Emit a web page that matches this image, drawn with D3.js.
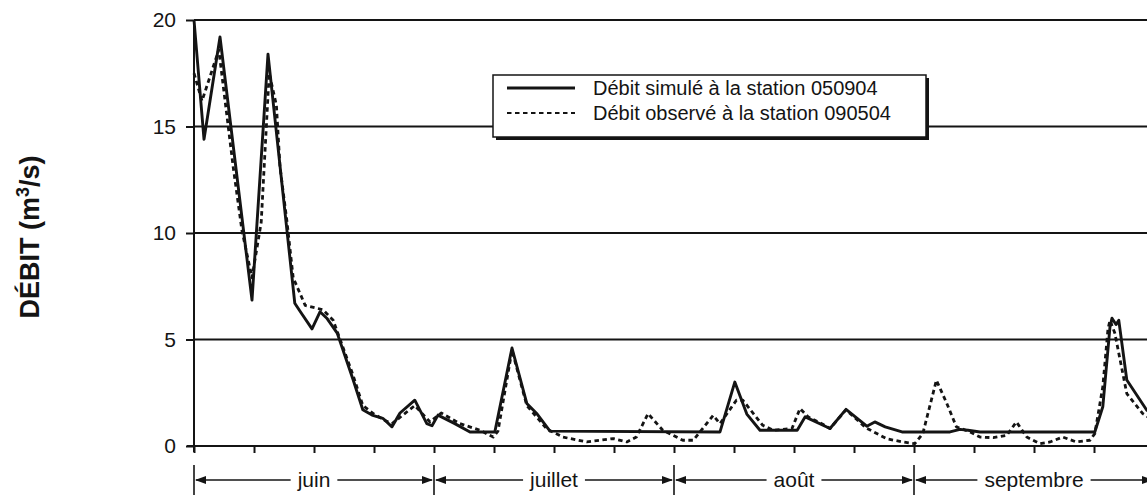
<!DOCTYPE html>
<html>
<head>
<meta charset="utf-8">
<script src="https://cdn.jsdelivr.net/npm/d3@7"></script>
<style>
  html, body { margin: 0; padding: 0; background: #fff; }
  svg { display: block; font-family: "Liberation Sans", Arial, sans-serif; }
</style>
</head>
<body>
<svg id="chart" width="1147" height="495"></svg>
<script>
// ---- data (x in days from 1 June; each month spans 30 units) ----
const simDays = [0, 1.25, 3.25, 7.25, 9.25, 12.6, 13.3, 14.75, 15.75, 16.6, 17.9, 19.9, 21.1, 22.25, 23.6, 24.75, 25.75, 27.6, 29.1, 29.75, 30.5, 32.6, 34.5, 37.6, 39.75, 41.6, 42.9, 44.5, 65.75, 67.6, 69.1, 70.75, 75.4, 76.4, 79.5, 81.5, 84.1, 85.1, 86.4, 88.5, 94.5, 95.75, 96.75, 98.25, 112.6, 113.6, 114.5, 114.75, 115.25, 115.6, 116.6, 119.1, 120];
const simValues = [20.0, 14.4, 19.2, 6.85, 18.4, 6.7, 6.3, 5.5, 6.3, 6.0, 5.3, 3.1, 1.7, 1.45, 1.3, 0.9, 1.55, 2.15, 1.05, 0.95, 1.45, 1.05, 0.66, 0.66, 4.6, 2.0, 1.5, 0.7, 0.66, 3.0, 1.5, 0.74, 0.74, 1.37, 0.82, 1.72, 0.93, 1.13, 0.9, 0.66, 0.66, 0.78, 0.74, 0.66, 0.66, 1.84, 5.6, 6.0, 5.7, 5.9, 3.1, 1.68, 1.5];

const obsDays = [0, 1.0, 3.1, 4.9, 6.0, 7.25, 8.4, 9.4, 10.3, 10.75, 11.6, 12.4, 13.9, 16.1, 17.4, 19.9, 21.1, 22.5, 23.9, 24.75, 26.1, 27.6, 29.5, 30.9, 33.25, 35.75, 37.4, 38.0, 39.75, 41.6, 44.1, 46.1, 49.1, 52.4, 54.1, 55.3, 56.75, 58.6, 59.9, 61.1, 62.4, 64.9, 65.75, 67.8, 68.6, 71.1, 72.4, 74.75, 75.75, 76.75, 78.6, 79.5, 81.5, 84.0, 86.6, 88.6, 90.1, 91.1, 92.8, 94.1, 95.3, 97.0, 98.25, 99.9, 101.6, 102.8, 104.1, 105.75, 107.0, 108.6, 110.3, 112.0, 112.6, 113.6, 114.25, 114.5, 115.1, 116.6, 118.6, 119.5];
const obsValues = [17.5, 16.2, 18.6, 13.1, 10.1, 7.9, 10.5, 17.5, 16.0, 13.1, 10.6, 7.9, 6.6, 6.4, 5.9, 3.3, 1.9, 1.5, 1.2, 1.05, 1.45, 1.9, 1.13, 1.55, 1.05, 0.74, 0.42, 0.7, 4.5, 1.9, 0.8, 0.42, 0.19, 0.35, 0.19, 0.42, 1.52, 0.74, 0.5, 0.27, 0.27, 1.44, 1.05, 2.15, 2.15, 0.97, 0.74, 0.82, 1.76, 1.37, 1.02, 0.82, 1.7, 0.85, 0.34, 0.19, 0.11, 0.58, 3.09, 2.0, 0.9, 0.66, 0.42, 0.39, 0.5, 1.13, 0.42, 0.11, 0.19, 0.42, 0.19, 0.27, 0.58, 2.78, 5.5, 5.9, 5.3, 2.46, 1.52, 1.3];

const yTickValues = [0, 5, 10, 15, 20];
const gridValues = [5, 10, 15, 20];
const xTickValues = d3.range(0, 121, 7.5);
const monthNames = ["juin", "juillet", "août", "septembre"];
const monthStarts = [0, 30, 60, 90];
const monthLength = 30;
const seriesNames = ["Débit simulé à la station 050904", "Débit observé à la station 090504"];
const yTitle = "DÉBIT (m";

// ---- drawing ----
const ink = "#141414";
const svg = d3.select("#chart");
const x = d3.scaleLinear().domain([0, 120]).range([194, 1154]);
const y = d3.scaleLinear().domain([0, 20]).range([446, 20]);

// gridlines
svg.append("g").selectAll("line").data(gridValues).join("line")
  .attr("x1", x(0)).attr("x2", 1147)
  .attr("y1", d => y(d)).attr("y2", d => y(d))
  .attr("stroke", ink).attr("stroke-width", 2);

// y axis
const yAxis = svg.append("g").attr("transform", `translate(${x(0)},0)`)
  .call(d3.axisLeft(y).tickValues(yTickValues).tickSize(8).tickPadding(10));
yAxis.select(".domain").remove();
yAxis.selectAll(".tick line").attr("stroke", ink).attr("stroke-width", 2);
yAxis.selectAll(".tick text").attr("fill", ink)
  .style("font-size", "21px").style("font-family", "'Liberation Sans', Arial, sans-serif");
svg.append("line").attr("x1", x(0)).attr("x2", x(0)).attr("y1", y(20)).attr("y2", y(0) + 6)
  .attr("stroke", ink).attr("stroke-width", 2);

// x axis
const xAxis = svg.append("g").attr("transform", `translate(0,${y(0)})`)
  .call(d3.axisBottom(x).tickValues(xTickValues).tickSize(7).tickFormat(""));
xAxis.select(".domain").remove();
xAxis.selectAll(".tick line").attr("stroke", ink).attr("stroke-width", 2);
svg.append("line").attr("x1", x(0) - 7).attr("x2", 1147).attr("y1", y(0)).attr("y2", y(0))
  .attr("stroke", ink).attr("stroke-width", 2);

// y title
const title = svg.append("text")
  .attr("transform", `translate(39,237) rotate(-90)`)
  .attr("text-anchor", "middle")
  .attr("fill", ink)
  .style("font-size", "27px").style("font-weight", "bold")
  .style("font-family", "'Liberation Sans', Arial, sans-serif");
title.append("tspan").text(yTitle);
title.append("tspan").attr("dy", -10).style("font-size", "18px").text("3");
title.append("tspan").attr("dy", 10).text("/s)");

// lines
const line = (days, vals) => d3.line().x((d, i) => x(days[i])).y(d => y(d))(vals);
svg.append("path").attr("d", line(obsDays, obsValues))
  .attr("fill", "none").attr("stroke", ink).attr("stroke-width", 2.8)
  .attr("stroke-dasharray", "4.5,3.5").attr("stroke-linejoin", "round");
svg.append("path").attr("d", line(simDays, simValues))
  .attr("fill", "none").attr("stroke", ink).attr("stroke-width", 2.9)
  .attr("stroke-linejoin", "round");

// legend
const lg = svg.append("g").attr("transform", "translate(493,75)");
lg.append("rect").attr("x", 3).attr("y", 3).attr("width", 433).attr("height", 62).attr("fill", ink);
lg.append("rect").attr("x", 0).attr("y", 0).attr("width", 433).attr("height", 62)
  .attr("fill", "#fff").attr("stroke", ink).attr("stroke-width", 1.5);
seriesNames.forEach((name, i) => {
  const yy = 13 + i * 25;
  lg.append("line").attr("x1", 14).attr("x2", 82).attr("y1", yy).attr("y2", yy)
    .attr("stroke", ink).attr("stroke-width", i === 0 ? 2.8 : 2.2)
    .attr("stroke-dasharray", i === 0 ? null : "4.5,3.5");
  lg.append("text").attr("x", 100).attr("y", yy + 7).attr("fill", ink)
    .style("font-size", "20px").text(name);
});

// month annotations
const rowY = 480;
const mg = svg.append("g");
const bounds = monthStarts.concat([monthStarts[3] + monthLength]);
mg.selectAll("line.bar").data(bounds).join("line").attr("class", "bar")
  .attr("x1", d => x(d)).attr("x2", d => x(d)).attr("y1", 465).attr("y2", 495)
  .attr("stroke", ink).attr("stroke-width", 1.6);
monthNames.forEach((name, i) => {
  const x0 = x(monthStarts[i]), x1 = x(monthStarts[i] + monthLength);
  const cx = (x0 + x1) / 2;
  const t = mg.append("text").attr("x", cx).attr("y", rowY + 7).attr("text-anchor", "middle")
    .attr("fill", ink).style("font-size", "21px").text(name);
  const w = t.node().getComputedTextLength();
  const gap = 7;
  mg.append("line").attr("x1", x0 + 2).attr("x2", cx - w / 2 - gap).attr("y1", rowY).attr("y2", rowY)
    .attr("stroke", ink).attr("stroke-width", 1.6);
  mg.append("line").attr("x1", cx + w / 2 + gap).attr("x2", x1 - 2).attr("y1", rowY).attr("y2", rowY)
    .attr("stroke", ink).attr("stroke-width", 1.6);
  mg.append("path").attr("d", `M${x0 + 1},${rowY} l11,-4 l0,8 z`).attr("fill", ink);
  mg.append("path").attr("d", `M${x1 - 1},${rowY} l-11,-4 l0,8 z`).attr("fill", ink);
});
</script>
</body>
</html>
